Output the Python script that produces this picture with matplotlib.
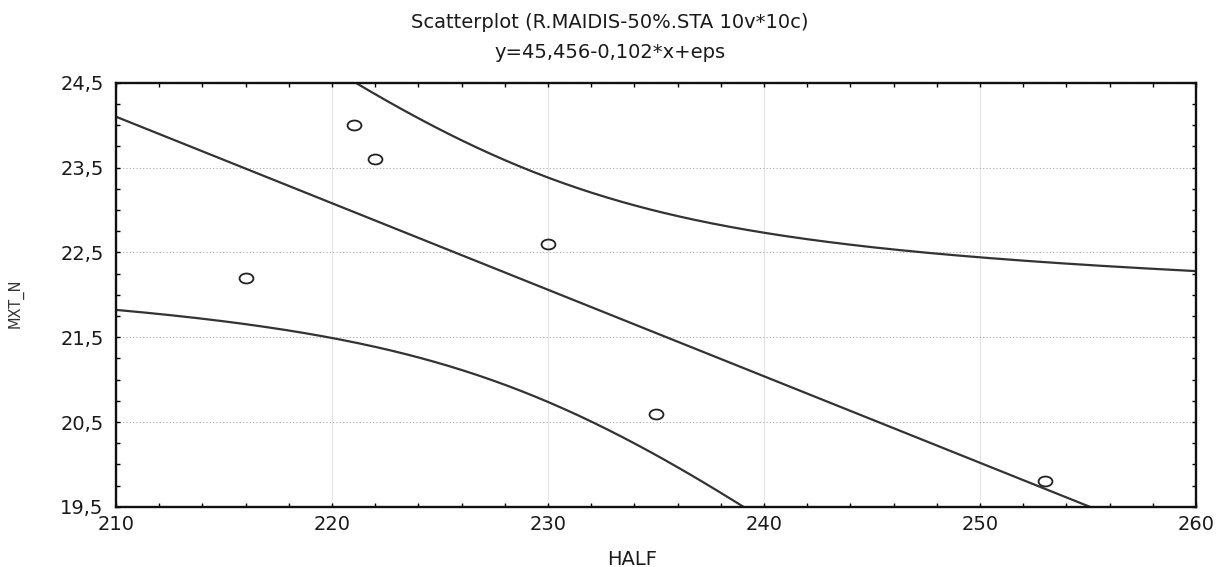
import numpy as np
import matplotlib
matplotlib.use('Agg')
import matplotlib.pyplot as plt
from matplotlib.ticker import MultipleLocator
from matplotlib.path import Path

plt.rcParams['font.family'] = ['DejaVu Sans']

half = [216, 221, 222, 230, 235, 253]
mxt_n = [22.2, 24.0, 23.6, 22.6, 20.6, 19.8]

# fitted line as drawn (title says y=45,456-0,102*x)
intercept = 45.52
slope = -0.102

# stats behind the 95% confidence band
n_cases = 10
x_mean = 229.1
sxx = 1845.0
resid_sd = 1.81
t_crit = 2.306

x_ticks = [210, 220, 230, 240, 250, 260]
y_ticks = [19.5, 20.5, 21.5, 22.5, 23.5, 24.5]
y_tick_labels = ['19,5', '20,5', '21,5', '22,5', '23,5', '24,5']

fig = plt.figure(figsize=(12.2, 5.67), dpi=100)
ax = fig.add_axes([0.0951, 0.106, 0.8852, 0.748])

line_color = '#333333'
text_color = '#1a1a1a'

# regression line and confidence band
xs = np.linspace(210, 260, 300)
fit = intercept + slope * xs
half_width = t_crit * resid_sd * np.sqrt(1.0 / n_cases + (xs - x_mean) ** 2 / sxx)
ax.plot(xs, fit, color=line_color, lw=1.6)
ax.plot(xs, fit + half_width, color=line_color, lw=1.6)
ax.plot(xs, fit - half_width, color=line_color, lw=1.6)

# the scan is a bit stretched sideways, so the circles come out as flat ovals
circ = Path.unit_circle()
oval = Path(circ.vertices * [1.4, 1.0], circ.codes)
ax.plot(half, mxt_n, linestyle='none', marker=oval, ms=10, mfc='none', mec='#222222', mew=1.3)

ax.set_xlim(210, 260)
ax.set_ylim(19.5, 24.5)
ax.set_xticks(x_ticks)
ax.set_xticklabels([str(v) for v in x_ticks], fontsize=14, color=text_color)
ax.set_yticks(y_ticks)
ax.set_yticklabels(y_tick_labels, fontsize=14, color=text_color)
ax.xaxis.set_minor_locator(MultipleLocator(2))
ax.yaxis.set_minor_locator(MultipleLocator(0.25))
ax.tick_params(which='both', direction='in', top=True, right=True, length=3, width=1)
ax.tick_params(axis='x', which='major', pad=6)
ax.tick_params(axis='y', which='major', pad=9)

# grid: dotted horizontals, faint verticals
ax.grid(axis='y', linestyle=(0, (1, 2)), color='#aaaaaa', lw=0.8)
ax.grid(axis='x', linestyle='-', color='#e4e4e4', lw=0.8)

for sp in ax.spines.values():
    sp.set_linewidth(1.7)
    sp.set_color('#111111')

ax.set_xlabel('HALF', fontsize=14, color=text_color)
ax.xaxis.set_label_coords(0.478, -0.125)
ax.xaxis.label.set_va('center')
ax.set_ylabel('MXT_N', fontsize=10.5, color='#333333')
ax.yaxis.set_label_coords(-0.0935, 0.48)
ax.yaxis.label.set_va('center')

fig.text(0.5, 0.961, 'Scatterplot (R.MAIDIS-50%.STA 10v*10c)', ha='center', va='center',
         fontsize=14, color=text_color)
fig.text(0.5, 0.908, 'y=45,456-0,102*x+eps', ha='center', va='center',
         fontsize=14, color=text_color)

fig.savefig('out.png', dpi=100)
